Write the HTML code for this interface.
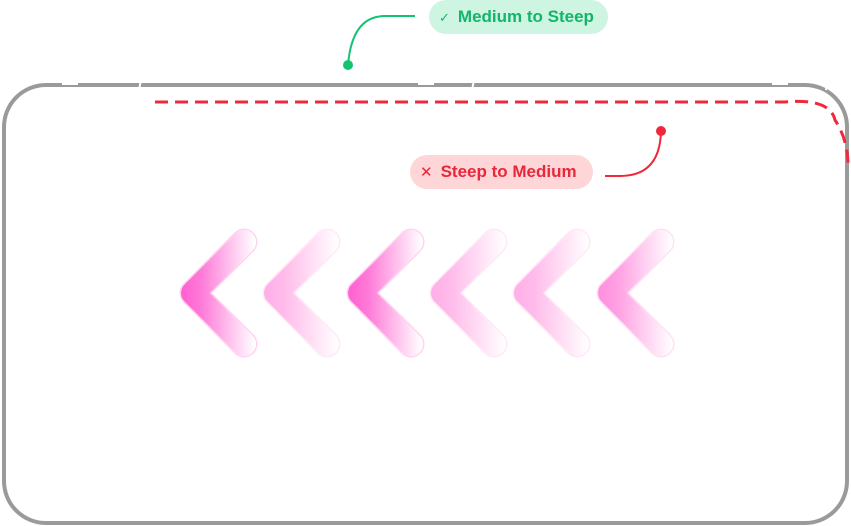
<!DOCTYPE html>
<html><head><style>
html,body{margin:0;padding:0;background:#fff;width:851px;height:526px;overflow:hidden;font-family:"Liberation Sans",sans-serif}
.lbl{position:absolute;height:34px;border-radius:17px;font-weight:bold;font-size:17px;line-height:34px;box-sizing:border-box;white-space:nowrap}
</style></head><body>
<svg width="851" height="526" style="position:absolute;left:0;top:0">
<defs>
<linearGradient id="g" gradientUnits="userSpaceOnUse" x1="178" x2="255" y1="0" y2="0"><stop offset="0" stop-color="#ff5ccf"/><stop offset="0.3" stop-color="#ff7ad8"/><stop offset="1" stop-color="#ffffff"/></linearGradient>
<g id="c">
<polyline points="244,242 193,293 244,344" fill="none" stroke="#ffd3ef" stroke-width="27" stroke-linejoin="round" stroke-linecap="round"/>
<polyline points="244,242 193,293 244,344" fill="none" stroke="#fff" stroke-width="24" stroke-linejoin="round" stroke-linecap="round"/>
<polyline points="244,242 193,293 244,344" fill="none" stroke="url(#g)" stroke-width="24" stroke-linejoin="round" stroke-linecap="round"/>
</g>
</defs>
<rect x="4" y="85" width="843" height="438" rx="42" fill="none" stroke="#9a9a9a" stroke-width="4"/>
<g stroke="#fff" stroke-width="2"><line x1="62" y1="84" x2="78" y2="84"/><line x1="418" y1="84" x2="434" y2="84"/><line x1="772" y1="84" x2="788" y2="84"/><line x1="141" y1="80" x2="139" y2="90"/><line x1="474" y1="80" x2="472" y2="90"/><line x1="828" y1="80" x2="826" y2="90"/></g>
<path d="M155 102 H785 Q830 98 835 120 Q848 140 848 165" fill="none" stroke="#f0283c" stroke-width="3" stroke-dasharray="13 7"/>
<path d="M415 16 H385 Q352 16 348 65" fill="none" stroke="#12c472" stroke-width="2"/>
<circle cx="348" cy="65" r="5" fill="#12c472"/>
<path d="M605 176 H620 Q660 176 661 131" fill="none" stroke="#f0283c" stroke-width="2"/>
<circle cx="661" cy="131" r="5" fill="#f0283c"/>
<use href="#c" x="0"/>
<use href="#c" x="83" opacity="0.5"/>
<use href="#c" x="167"/>
<use href="#c" x="250" opacity="0.5"/>
<use href="#c" x="333" opacity="0.5"/>
<use href="#c" x="417" opacity="0.7"/>
</svg>
<div class="lbl" style="left:429px;top:0;width:179px;background:#cdf5e2;color:#12b56a;padding-left:10px"><span style="font-weight:normal;font-size:13px;margin-right:8px">✓</span>Medium to Steep</div>
<div class="lbl" style="left:410px;top:155px;width:183px;background:#ffd6d8;color:#e8273a;padding-left:10px"><span style="font-weight:normal;font-size:15px;margin-right:8px">✕</span>Steep to Medium</div>
</body></html>
